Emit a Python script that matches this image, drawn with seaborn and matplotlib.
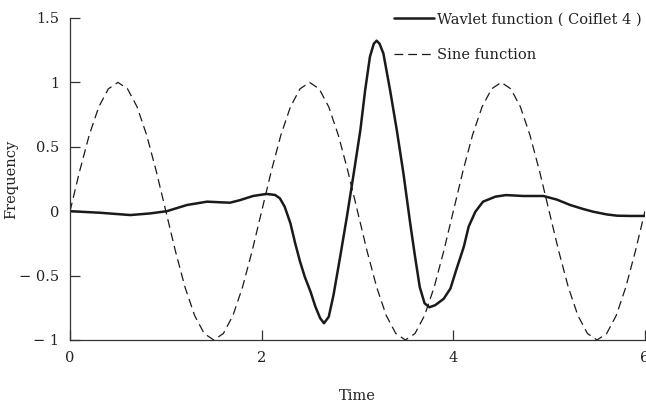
import numpy as np
import pandas as pd
import matplotlib
matplotlib.use("Agg")
import matplotlib.pyplot as plt
import seaborn as sns

# Wavelet function (Coiflet 4)
wav_x = [0.00, 0.31, 0.63, 0.84, 1.01, 1.22, 1.43, 1.60, 1.67, 1.77, 1.91, 2.05,
         2.14, 2.19, 2.24, 2.30, 2.35, 2.40, 2.45, 2.51, 2.56, 2.61, 2.65, 2.70,
         2.75, 2.82, 2.89, 2.96, 3.03, 3.08, 3.13, 3.17, 3.20, 3.23, 3.27, 3.34,
         3.41, 3.48, 3.55, 3.60, 3.65, 3.70, 3.75, 3.81, 3.90, 3.97, 4.03, 4.11,
         4.16, 4.23, 4.31, 4.44, 4.55, 4.73, 4.94, 5.08, 5.22, 5.35, 5.46, 5.60,
         5.71, 5.85, 6.00]
wav_y = [0.000, -0.012, -0.030, -0.017, 0.000, 0.048, 0.074, 0.068, 0.066, 0.085, 0.118, 0.134,
         0.126, 0.100, 0.035, -0.094, -0.250, -0.390, -0.510, -0.625, -0.740, -0.830, -0.870, -0.820,
         -0.650, -0.350, -0.040, 0.290, 0.630, 0.940, 1.200, 1.300, 1.324, 1.300, 1.225, 0.940,
         0.630, 0.290, -0.094, -0.350, -0.590, -0.715, -0.746, -0.730, -0.680, -0.600, -0.457, -0.275,
         -0.120, -0.004, 0.074, 0.113, 0.125, 0.118, 0.118, 0.090, 0.048, 0.018, -0.004, -0.025,
         -0.035, -0.037, -0.037]

# Sine function
sin_x = [round(0.1 * i, 1) for i in range(61)]
sin_y = [0.00, 0.31, 0.59, 0.81, 0.95, 1.00, 0.95, 0.81, 0.59, 0.31,
         0.00, -0.31, -0.59, -0.81, -0.95, -1.00, -0.95, -0.81, -0.59, -0.31,
         0.00, 0.31, 0.59, 0.81, 0.95, 1.00, 0.95, 0.81, 0.59, 0.31,
         0.00, -0.31, -0.59, -0.81, -0.95, -1.00, -0.95, -0.81, -0.59, -0.31,
         0.00, 0.31, 0.59, 0.81, 0.95, 1.00, 0.95, 0.81, 0.59, 0.31,
         0.00, -0.31, -0.59, -0.81, -0.95, -1.00, -0.95, -0.81, -0.59, -0.31,
         0.00]

x_ticks = [0, 2, 4, 6]
x_tick_labels = ["0", "2", "4", "6"]
y_ticks = [-1, -0.5, 0, 0.5, 1, 1.5]
y_tick_labels = ["\u2212 1", "\u2212 0.5", "0", "0.5", "1", "1.5"]

series_names = ["Wavlet function ( Coiflet 4 )", "Sine function"]

sns.set_theme(style="ticks")
plt.rcParams["font.family"] = ["DejaVu Serif"]
plt.rcParams["lines.solid_joinstyle"] = "round"

fig = plt.figure(figsize=(6.46, 4.08), dpi=100)
ax = fig.add_axes([0.1084, 0.1667, 0.8900, 0.7892])

df_w = pd.DataFrame({"Time": wav_x, "Frequency": wav_y})
df_s = pd.DataFrame({"Time": sin_x, "Frequency": sin_y})

sns.lineplot(data=df_w, x="Time", y="Frequency", ax=ax, color="#1a1a1a",
             linewidth=1.8, label=series_names[0], sort=False)
sns.lineplot(data=df_s, x="Time", y="Frequency", ax=ax, color="#1a1a1a",
             linewidth=0.9, linestyle=(0, (7, 4)), label=series_names[1], sort=False)

ax.set_xlim(0, 6)
ax.set_ylim(-1, 1.5)
ax.set_xticks(x_ticks)
ax.set_xticklabels(x_tick_labels)
ax.set_yticks(y_ticks)
ax.set_yticklabels(y_tick_labels)
ax.tick_params(direction="in", length=7, width=0.9, colors="#333333",
               labelsize=10.5, labelcolor="#222222", pad=8)
for s in ["top", "right"]:
    ax.spines[s].set_visible(False)
for s in ["left", "bottom"]:
    ax.spines[s].set_color("#333333")
    ax.spines[s].set_linewidth(0.9)

ax.set_xlabel("Time", fontsize=10.5, color="#222222")
ax.xaxis.set_label_coords(0.5, -0.152)
ax.set_ylabel("Frequency", fontsize=10.5, color="#222222")
ax.yaxis.set_label_coords(-0.090, 0.5)

leg = ax.legend(loc="upper right", bbox_to_anchor=(1.005, 1.035), frameon=False,
                fontsize=10.5, handlelength=2.8, handletextpad=0.2,
                labelspacing=1.45, borderaxespad=0.0)
for t in leg.get_texts():
    t.set_color("#222222")

fig.savefig("out.png", dpi=100)
